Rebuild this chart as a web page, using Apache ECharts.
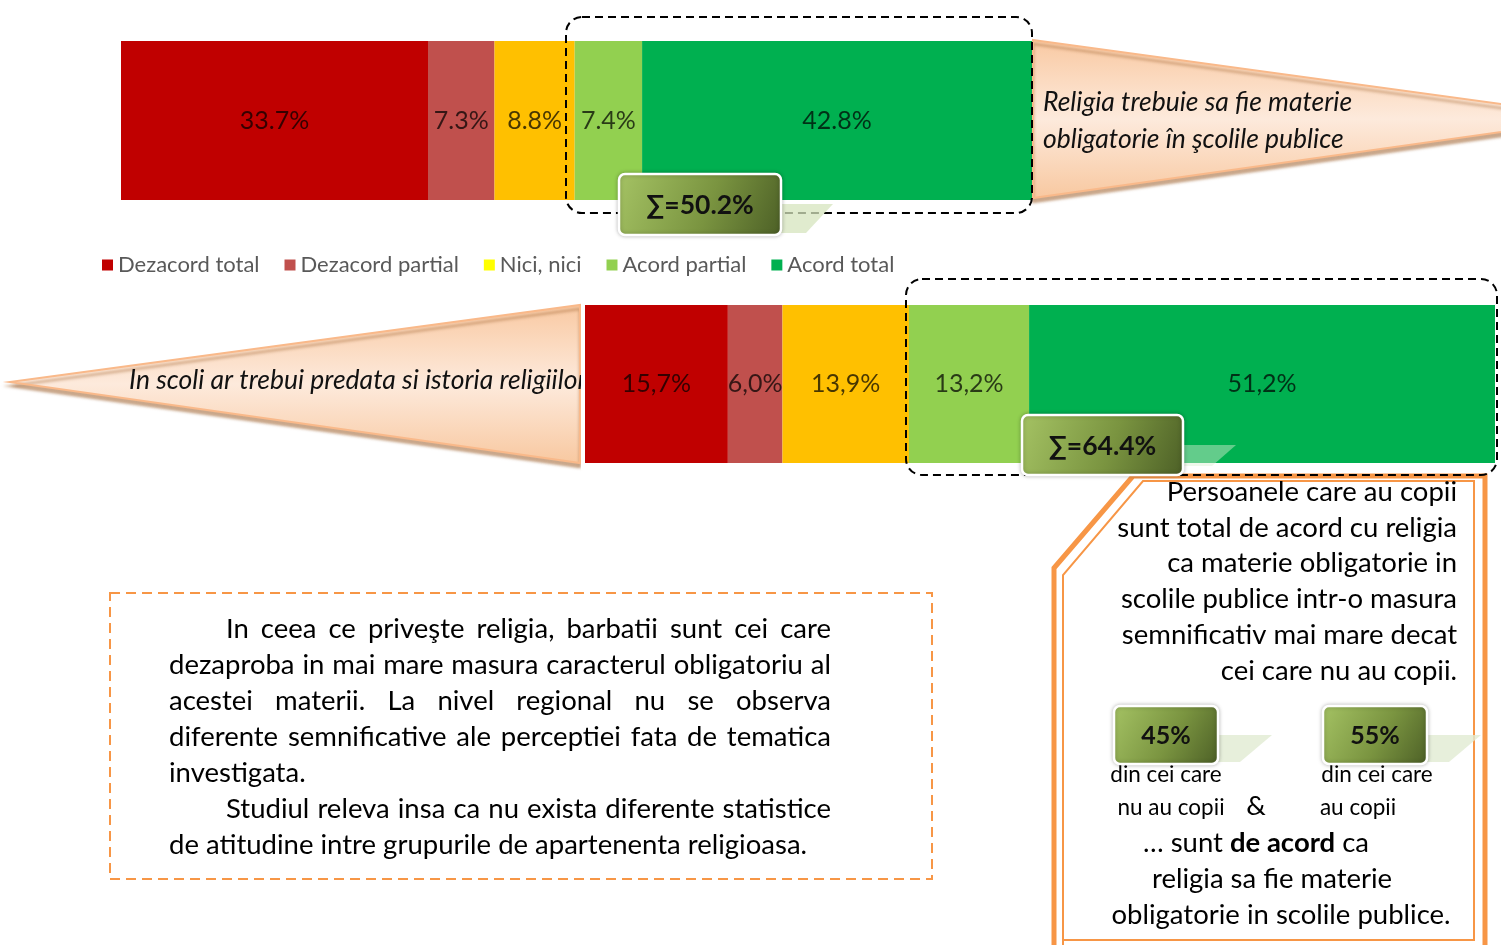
<!DOCTYPE html>
<html>
<head>
<meta charset="utf-8">
<script src="https://cdn.jsdelivr.net/npm/echarts@6/dist/echarts.min.js"></script>
<style>
  html, body { margin: 0; padding: 0; background: #fff; }
  #main { width: 1501px; height: 945px; }
</style>
</head>
<body>
<div id="main"></div>
<script>
// date
var answers = ['Dezacord total', 'Dezacord partial', 'Nici, nici', 'Acord partial', 'Acord total'];
var barColors = ['#C00000', '#C0504D', '#FFC000', '#92D050', '#00B050'];
var legendColors = ['#C00000', '#C0504D', '#FFFF00', '#92D050', '#00B050'];

var topQuestion = ['Religia trebuie sa fie materie', 'obligatorie în şcolile publice'];
var topValues = [33.7, 7.3, 8.8, 7.4, 42.8];

var bottomQuestion = 'In scoli ar trebui predata si istoria religiilor';
var bottomValues = [15.7, 6.0, 13.9, 13.2, 51.2];

var kidsAgree = [45, 55];
var kidsLabels = [['din cei care', 'nu au copii'], ['din cei care', 'au copii']];

var boxLines = [
  'Persoanele care au copii',
  'sunt total de acord cu religia',
  'ca materie obligatorie in',
  'scolile publice intr-o masura',
  'semnificativ mai mare decat',
  'cei care nu au copii.'
];
var closingLines = ['… sunt {b|de acord} ca', 'religia sa fie materie', 'obligatorie in scolile publice.'];

var paragraph = [
  ['In ceea ce priveşte religia, barbatii sunt cei care', true, true],
  ['dezaproba in mai mare masura caracterul obligatoriu al', false, true],
  ['acestei materii. La nivel regional nu se observa', false, true],
  ['diferente semnificative ale perceptiei fata de tematica', false, true],
  ['investigata.', false, false],
  ['Studiul releva insa ca nu exista diferente statistice', true, true],
  ['de atitudine intre grupurile de apartenenta religioasa.', false, false]
];

var FONT = 'Lato, "Open Sans", sans-serif';
var myChart = echarts.init(document.getElementById('main'));

function sumAgree(vals) {
  return (vals[3] + vals[4]).toFixed(1);
}

var measureCtx = document.createElement('canvas').getContext('2d');
function textWidth(s, font) {
  measureCtx.font = font;
  return measureCtx.measureText(s).width;
}
// marimea de font pentru care textul are latimea ceruta
function fitSize(s, target, prefix, maxSize) {
  var w = textWidth(s, prefix + '100px ' + FONT);
  return Math.min(maxSize || 40, Math.round(100 * target / w * 2) / 2);
}

// paragraf aliniat stanga-dreapta, cuvant cu cuvant
function paragraphElements() {
  var x0 = 169, x1 = 831, indent = 57, y = 629, step = 36;
  var size = fitSize(paragraph[6][0], 642, '', 28);
  var font = size + 'px ' + FONT;
  var els = [];
  paragraph.forEach(function (p, i) {
    var start = x0 + (p[1] ? indent : 0);
    var ly = y + i * step;
    if (!p[2]) {
      els.push({ type: 'text', x: start, y: ly, z: 10,
        style: { text: p[0], font: font, fill: '#000', textVerticalAlign: 'middle' } });
      return;
    }
    var words = p[0].split(' ');
    var ws = words.map(function (w) { return textWidth(w, font); });
    var total = ws.reduce(function (a, b) { return a + b; }, 0);
    var gap = (x1 - start - total) / (words.length - 1);
    var cx = start;
    words.forEach(function (w, k) {
      els.push({ type: 'text', x: cx, y: ly, z: 10,
        style: { text: w, font: font, fill: '#000', textVerticalAlign: 'middle' } });
      cx += ws[k] + gap;
    });
  });
  return els;
}

var badgeFill = {
  type: 'linear', x: 0, y: 0, x2: 1, y2: 1,
  colorStops: [{ offset: 0, color: '#A5C364' }, { offset: 0.55, color: '#7A9440' }, { offset: 1, color: '#4C5F26' }]
};

function badge(x, y, w, h, text, size, tail, tailColor) {
  return [
    { type: 'polygon', z: 11, shape: { points: tail }, style: { fill: tailColor } },
    { type: 'rect', z: 12, shape: { x: x, y: y, width: w, height: h, r: 6 },
      style: { fill: badgeFill, stroke: '#fff', lineWidth: 2.5, shadowBlur: 4, shadowColor: 'rgba(0,0,0,0.25)' } },
    { type: 'text', z: 13, x: x + w / 2, y: y + h / 2 + 1,
      style: { text: text, font: 'bold ' + size + 'px ' + FONT, fill: '#111', textAlign: 'center', textVerticalAlign: 'middle' } }
  ];
}

var pennantFill = {
  type: 'linear', x: 0, y: 0, x2: 0, y2: 1,
  colorStops: [{ offset: 0, color: '#F9C9A2' }, { offset: 0.5, color: '#FDEADC' }, { offset: 1, color: '#F8C8A0' }]
};
var pennantStyle = {
  fill: pennantFill, stroke: '#F9B98A', lineWidth: 2,
  shadowBlur: 3, shadowOffsetY: 4, shadowColor: 'rgba(160,100,50,0.55)'
};

var graphics = [];

// pennant sus
var qSize = fitSize(topQuestion[0], 309, 'italic ', 30);
graphics.push({ type: 'polygon', z: 0, shape: { points: [[1033, 40], [1530, 108], [1530, 128], [1033, 198]] }, style: pennantStyle });
topQuestion.forEach(function (t, i) {
  graphics.push({ type: 'text', z: 1, x: 1043, y: 102 + i * 37,
    style: { text: t, font: 'italic ' + qSize + 'px ' + FONT, fill: '#111', textVerticalAlign: 'middle' } });
});

// pennant jos (textul e taiat de marginea din dreapta)
graphics.push({ type: 'polygon', z: 0, shape: { points: [[10, 382], [580, 305], [580, 463]] }, style: pennantStyle });
graphics.push({ type: 'text', z: 1, x: 129, y: 380,
  style: { text: bottomQuestion, font: 'italic ' + qSize + 'px ' + FONT, fill: '#111', textVerticalAlign: 'middle' } });
graphics.push({ type: 'rect', z: 1, shape: { x: 581, y: 300, width: 5, height: 170 }, style: { fill: '#fff' } });

// chenare punctate negre
graphics.push({ type: 'rect', z: 10, shape: { x: 566, y: 17, width: 466, height: 196, r: 16 },
  style: { fill: 'none', stroke: '#000', lineWidth: 2, lineDash: [8, 5] } });
graphics.push({ type: 'rect', z: 10, shape: { x: 906, y: 279, width: 591, height: 196, r: 16 },
  style: { fill: 'none', stroke: '#000', lineWidth: 2, lineDash: [8, 5] } });

// insigne suma
var sumSize = fitSize('∑=' + sumAgree(topValues) + '%', 107, 'bold ', 28);
graphics = graphics.concat(badge(619, 174, 162, 61, '∑=' + sumAgree(topValues) + '%', sumSize,
  [[781, 204], [833, 204], [806, 233], [781, 233]], 'rgba(214,228,190,0.75)'));
graphics = graphics.concat(badge(1022, 415, 161, 60, '∑=' + sumAgree(bottomValues) + '%', sumSize,
  [[1183, 445], [1236, 445], [1212, 466], [1183, 466]], 'rgba(220,240,210,0.45)'));

// chenar portocaliu dreapta
graphics.push({ type: 'polyline', z: 9, shape: { points: [[1054, 945], [1054, 568], [1133, 476], [1485, 476], [1485, 945]] },
  style: { fill: 'none', stroke: '#F79646', lineWidth: 5 } });
graphics.push({ type: 'polyline', z: 9, shape: { points: [[1063, 945], [1063, 575], [1143, 481], [1474, 481], [1474, 940], [1063, 940]] },
  style: { fill: 'none', stroke: '#F79646', lineWidth: 2 } });

var boxSize = fitSize(boxLines[1], 339, '', 30);
boxLines.forEach(function (t, i) {
  graphics.push({ type: 'text', z: 10, x: 1457, y: 492 + i * 35.8,
    style: { text: t, font: boxSize + 'px ' + FONT, fill: '#000', textAlign: 'right', textVerticalAlign: 'middle' } });
});

var pctSize = fitSize(kidsAgree[0] + '%', 49, 'bold ', 28);
graphics = graphics.concat(badge(1114, 706, 104, 58, kidsAgree[0] + '%', pctSize,
  [[1218, 735], [1272, 735], [1240, 762], [1218, 762]], 'rgba(225,235,210,0.8)'));
graphics = graphics.concat(badge(1323, 706, 104, 58, kidsAgree[1] + '%', pctSize,
  [[1427, 735], [1481, 735], [1449, 762], [1427, 762]], 'rgba(225,235,210,0.8)'));

var smallSize = fitSize(kidsLabels[0][0], 111, '', 24);
[[1166, 1171], [1377, 1358]].forEach(function (xs, k) {
  kidsLabels[k].forEach(function (t, i) {
    graphics.push({ type: 'text', z: 10, x: xs[i], y: 775 + i * 33,
      style: { text: t, font: smallSize + 'px ' + FONT, fill: '#000', textAlign: 'center', textVerticalAlign: 'middle' } });
  });
});
graphics.push({ type: 'text', z: 10, x: 1256, y: 806,
  style: { text: '&', font: boxSize + 'px ' + FONT, fill: '#000', textAlign: 'center', textVerticalAlign: 'middle' } });

var closeSize = fitSize(closingLines[2], 338, '', 30);
[1256, 1272, 1281].forEach(function (cx, i) {
  graphics.push({ type: 'text', z: 10, x: cx, y: 843 + i * 36,
    style: { text: closingLines[i], font: closeSize + 'px ' + FONT, fill: '#000', textAlign: 'center', textVerticalAlign: 'middle',
      rich: { b: { font: 'bold ' + closeSize + 'px ' + FONT, fill: '#000' } } } });
});

// chenar portocaliu punctat stanga
graphics.push({ type: 'rect', z: 9, shape: { x: 110, y: 593, width: 822, height: 286 },
  style: { fill: 'none', stroke: '#F79646', lineWidth: 2, lineDash: [10, 6] } });
graphics = graphics.concat(paragraphElements());

function makeSeries(vals, idx, comma) {
  return vals.map(function (v, i) {
    return {
      name: answers[i],
      type: 'bar',
      stack: 's' + idx,
      xAxisIndex: idx,
      yAxisIndex: idx,
      barWidth: '100%',
      itemStyle: { color: barColors[i] },
      label: {
        show: true,
        position: 'inside',
        fontSize: 25,
        fontFamily: FONT,
        color: 'rgba(0,0,0,0.72)',
        formatter: function (p) {
          var s = p.value.toFixed(1);
          return (comma ? s.replace('.', ',') : s) + '%';
        }
      },
      data: [v]
    };
  });
}

option = {
  animation: false,
  legend: {
    left: 97,
    top: 249,
    icon: 'rect',
    itemWidth: 11,
    itemHeight: 11,
    itemGap: 25,
    textStyle: { fontSize: 22, color: '#595959', fontFamily: FONT },
    data: answers.map(function (a, i) { return { name: a, itemStyle: { color: legendColors[i] } }; })
  },
  grid: [
    { left: 121, top: 41, width: 911, height: 159 },
    { left: 585, top: 305, width: 910, height: 158 }
  ],
  xAxis: [
    { type: 'value', gridIndex: 0, min: 0, max: 100, show: false },
    { type: 'value', gridIndex: 1, min: 0, max: 100, show: false }
  ],
  yAxis: [
    { type: 'category', gridIndex: 0, data: ['q1'], show: false },
    { type: 'category', gridIndex: 1, data: ['q2'], show: false }
  ],
  series: makeSeries(topValues, 0, false).concat(makeSeries(bottomValues, 1, true)),
  graphic: { elements: graphics }
};

myChart.setOption(option);
</script>
</body>
</html>
